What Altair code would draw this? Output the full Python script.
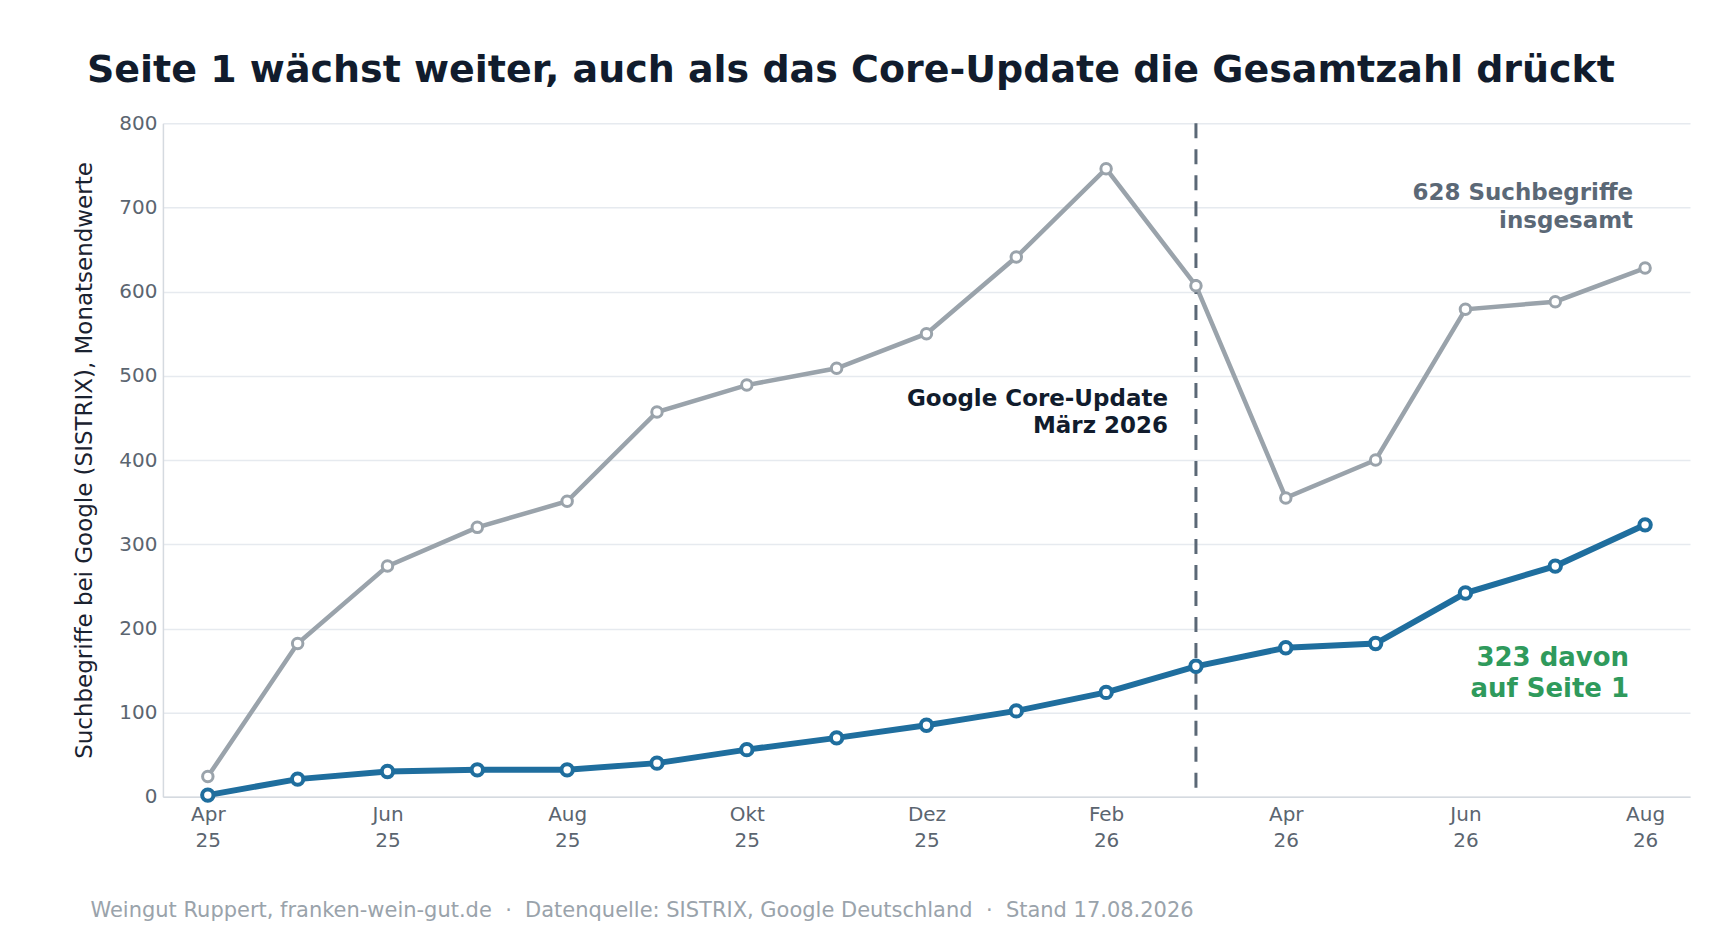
import altair as alt
import pandas as pd

months = ["Apr 25", "Mai 25", "Jun 25", "Jul 25", "Aug 25", "Sep 25", "Okt 25", "Nov 25",
          "Dez 25", "Jan 26", "Feb 26", "Mär 26", "Apr 26", "Mai 26", "Jun 26", "Jul 26", "Aug 26"]
total = [24, 182, 274, 320, 351, 457, 489, 509, 550, 641, 746, 607, 355, 400, 579, 588, 628]
page1 = [2, 21, 30, 32, 32, 40, 56, 70, 85, 102, 124, 155, 177, 182, 242, 274, 323]

tick_months = ["Apr 25", "Jun 25", "Aug 25", "Okt 25", "Dez 25", "Feb 26", "Apr 26", "Jun 26", "Aug 26"]
y_ticks = [0, 100, 200, 300, 400, 500, 600, 700, 800]

update_month = "Mär 26"
update_label = ["Google Core-Update", "März 2026"]
update_label_y = 473
total_label = ["628 Suchbegriffe", "insgesamt"]
total_label_y = 717
page1_label = ["323 davon", "auf Seite 1"]
page1_label_y = 165
last_month = "Aug 26"

title_text = "Seite 1 wächst weiter, auch als das Core-Update die Gesamtzahl drückt"
footer_text = ("Weingut Ruppert, franken-wein-gut.de\u00a0\u00a0·\u00a0\u00a0Datenquelle: SISTRIX, "
               "Google Deutschland\u00a0\u00a0·\u00a0\u00a0Stand 17.08.2026")
y_title = "Suchbegriffe bei Google (SISTRIX), Monatsendwerte"

BLUE = "#1f6e9e"
GRAY = "#9aa3ab"
GREEN = "#2f9a5c"
SLATE = "#5b6876"
FONT = "DejaVu Sans"

df = pd.DataFrame({"month": months, "total": total, "page1": page1})

x_enc = alt.X(
    "month:O", sort=months,
    scale=alt.Scale(type="point", padding=0.5),
    axis=alt.Axis(
        values=tick_months, labelExpr="split(datum.label, ' ')",
        labelFontSize=20, labelColor="#5b6570", labelLineHeight=26, labelPadding=8,
        labelAngle=0, ticks=False, grid=False, domainColor="#d5dae0", domainWidth=1.5,
        title=footer_text, titleAnchor="start", titleAlign="left", titleX=-73, titleY=114,
        titleBaseline="middle", titleFontSize=21, titleFontWeight="normal", titleColor="#9aa3ab",
        titleFont=FONT, labelFont=FONT,
    ),
)

y_scale = alt.Scale(domain=[0, 800], nice=False)
y_axis = alt.Axis(
    values=y_ticks, labelFontSize=20, labelColor="#5b6570", labelPadding=6, ticks=False,
    gridColor="#e6eaef", gridWidth=1.5, domainColor="#d5dae0", domainWidth=1.5,
    title=y_title, titleFontSize=23, titleFontWeight="normal", titleColor="#1a2230",
    titlePadding=22, labelFont=FONT, titleFont=FONT,
)

base = alt.Chart(df)

gray_line = base.mark_line(color=GRAY, strokeWidth=4.5).encode(
    x=x_enc, y=alt.Y("total:Q", scale=y_scale, axis=y_axis))
gray_pts = base.mark_point(shape="circle", fill="white", stroke=GRAY, strokeWidth=3,
                           size=110, opacity=1, filled=False).encode(x=x_enc, y=alt.Y("total:Q"))
blue_line = base.mark_line(color=BLUE, strokeWidth=6).encode(x=x_enc, y=alt.Y("page1:Q"))
blue_pts = base.mark_point(shape="circle", fill="white", stroke=BLUE, strokeWidth=4,
                           size=130, opacity=1, filled=False).encode(x=x_enc, y=alt.Y("page1:Q"))

rule = alt.Chart(pd.DataFrame({"month": [update_month]})).mark_rule(
    color=SLATE, strokeWidth=3, strokeDash=[15, 11]).encode(x=alt.X("month:O", sort=months))

def label(month, yval, lines, color, size, dx, lh):
    d = pd.DataFrame({"month": [month], "v": [yval]})
    return alt.Chart(d).mark_text(
        text=lines, align="right", baseline="middle", dx=dx, fontSize=size,
        fontWeight="bold", color=color, lineHeight=lh, font=FONT,
    ).encode(x=alt.X("month:O", sort=months), y=alt.Y("v:Q"))

upd = label(update_month, update_label_y, update_label, "#111c2d", 23, -28, 27.6)
tot = label(last_month, total_label_y, total_label, SLATE, 23, -12, 27.6)
p1 = label(last_month, page1_label_y, page1_label, GREEN, 26, -16, 31)

chart = alt.layer(gray_line, rule, blue_line, gray_pts, blue_pts, upd, tot, p1).properties(
    width=1528, height=674,
    autosize=alt.AutoSizeParams(type="none"),
    padding={"left": 155, "top": 115, "right": 14, "bottom": 128},
    title=alt.TitleParams(title_text, anchor="start", frame="group", fontSize=38, fontWeight="bold",
                          color="#111c2d", font=FONT, dx=-76, dy=47, offset=40, baseline="alphabetic"),
).configure(font=FONT, background="white", view=alt.ViewConfig(stroke=None))

chart.save("out.html", embed_options={"renderer": "svg", "actions": False})
